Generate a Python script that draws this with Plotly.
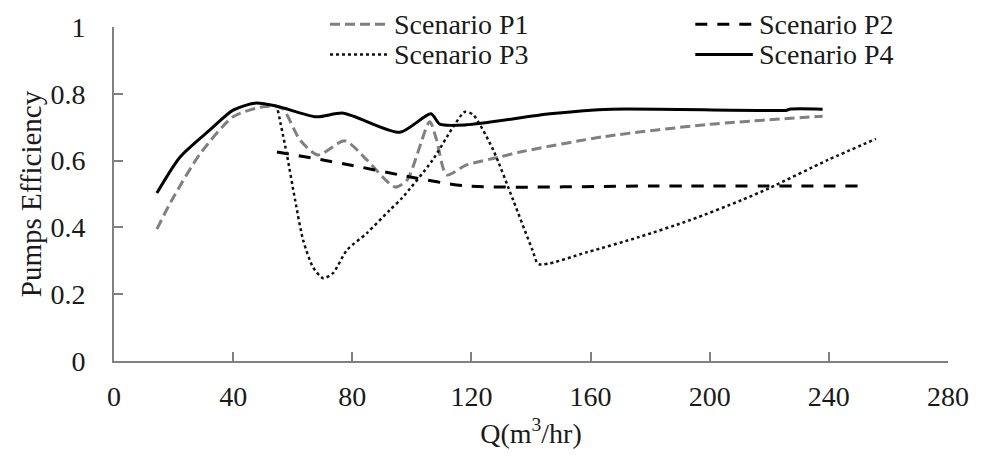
import plotly.graph_objects as go

# Scenario P1 (gray dashed)
p1_q = [14.4, 19.8, 28.9, 40, 50, 56.4, 62.4, 68.5, 77.5, 84.9, 94.3, 98.4, 106, 108.3, 111.7, 118.4, 129.6, 135.9, 164.7, 199.3, 237.9]
p1_e = [0.395, 0.488, 0.62, 0.731, 0.761, 0.757, 0.662, 0.617, 0.659, 0.602, 0.521, 0.542, 0.716, 0.662, 0.557, 0.587, 0.611, 0.625, 0.672, 0.708, 0.733]

# Scenario P2 (black dashed)
p2_q = [54.7, 79.2, 96, 118.4, 180, 252.4]
p2_e = [0.626, 0.587, 0.557, 0.524, 0.524, 0.524]

# Scenario P3 (dotted)
p3_q = [55, 58, 60.8, 63.5, 66.8, 70.2, 73.5, 78.2, 84.9, 92.6, 96.7, 107, 113.8, 117.8, 120.6, 127.3, 134, 140.5, 142.6, 158.9, 176.2, 193.5, 210.8, 220.1, 239.7, 255.8]
p3_e = [0.751, 0.62, 0.482, 0.362, 0.281, 0.248, 0.263, 0.332, 0.383, 0.452, 0.488, 0.602, 0.70, 0.746, 0.737, 0.632, 0.482, 0.332, 0.29, 0.326, 0.371, 0.422, 0.482, 0.518, 0.602, 0.665]

# Scenario P4 (solid black)
p4_q = [14.4, 22.2, 32.2, 40, 47.3, 54.7, 68, 77, 96, 106.4, 109.4, 118.4, 146.4, 167, 225.9, 226.8, 237.9]
p4_e = [0.503, 0.611, 0.692, 0.751, 0.772, 0.763, 0.731, 0.742, 0.685, 0.740, 0.709, 0.707, 0.740, 0.754, 0.751, 0.754, 0.754]

x_ticks = [0, 40, 80, 120, 160, 200, 240, 280]
y_ticks = [0, 0.2, 0.4, 0.6, 0.8, 1]
y_tick_text = ["0", "0.2", "0.4", "0.6", "0.8", "1"]

series_names = ["Scenario P1", "Scenario P2", "Scenario P3", "Scenario P4"]

FONT = "Liberation Serif, Times New Roman, serif"
TXT = "#1a1a1a"
AX = "#808080"

styles = [
    dict(color="#808080", width=3, dash="10px,5px"),
    dict(color="#000000", width=3, dash="12px,10px"),
    dict(color="#111111", width=2.5, dash="dot"),
    dict(color="#000000", width=3, dash="solid"),
]

fig = go.Figure()
for (q, e), name, st in zip([(p1_q, p1_e), (p2_q, p2_e), (p3_q, p3_e), (p4_q, p4_e)], series_names, styles):
    fig.add_trace(go.Scatter(x=q, y=e, mode="lines", name=name, showlegend=False,
                             line=dict(color=st["color"], width=st["width"], dash=st["dash"],
                                       shape="spline", smoothing=0.7)))

# Custom legend (wider line samples, two columns) in paper coordinates
legend_pos = [(0.259, 1.008), (0.697, 1.008), (0.259, 0.918), (0.697, 0.918)]
sample_len = 0.069
for (lx, ly), name, st in zip(legend_pos, series_names, styles):
    fig.add_shape(type="line", xref="paper", yref="paper", x0=lx, x1=lx + sample_len, y0=ly, y1=ly,
                  line=dict(color=st["color"], width=st["width"], dash=st["dash"]))
    fig.add_annotation(xref="paper", yref="paper", x=lx + sample_len + 0.006, y=ly, text=name,
                       showarrow=False, xanchor="left", yanchor="middle", borderpad=0,
                       font=dict(family=FONT, size=28, color=TXT))

# page body has an 8px margin, so the figure is offset by 8px
fig.update_layout(
    width=978, height=450,
    margin=dict(l=106, r=38, t=19, b=97, autoexpand=False),
    paper_bgcolor="white", plot_bgcolor="white",
    font=dict(family=FONT, size=28, color=TXT),
    showlegend=False,
    xaxis=dict(range=[0, 280], tickvals=x_ticks, ticks="inside", ticklen=9, tickwidth=2,
               tickcolor=AX, showline=True, linecolor=AX, linewidth=2, ticklabelstandoff=9,
               showgrid=False, zeroline=False, tickfont=dict(size=28),
               title=dict(text="Q(m<sup>3</sup>/hr)", font=dict(size=28), standoff=13)),
    yaxis=dict(range=[0, 1], tickvals=y_ticks, ticktext=y_tick_text, ticks="inside", ticklen=9,
               tickwidth=2, tickcolor=AX, showline=True, linecolor=AX, linewidth=2, ticklabelstandoff=21,
               showgrid=False, zeroline=False, tickfont=dict(size=28),
               title=dict(text="Pumps Efficiency", font=dict(size=29), standoff=0)),
)

fig.write_html("out.html")
